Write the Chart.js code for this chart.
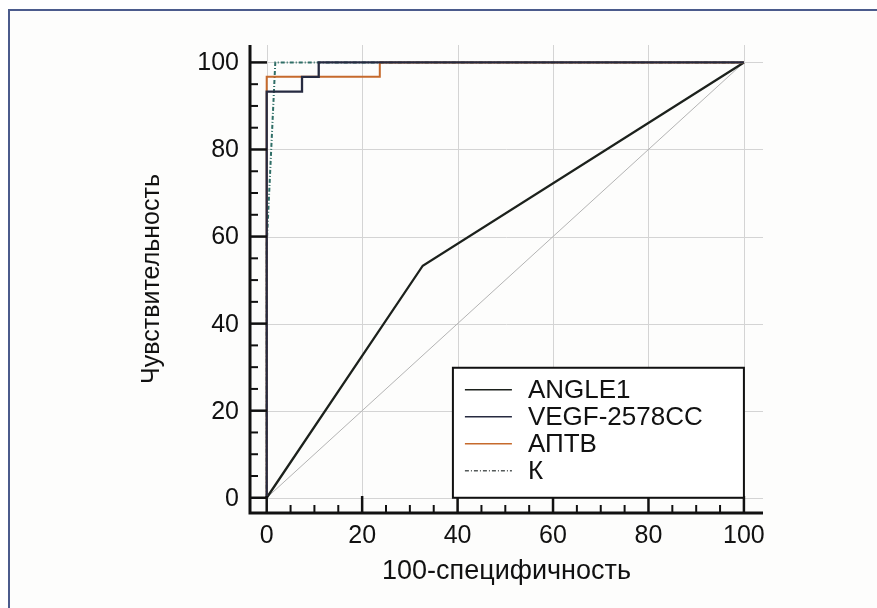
<!DOCTYPE html>
<html>
<head>
<meta charset="utf-8">
<script src="https://cdn.jsdelivr.net/npm/chart.js@4.4.1/dist/chart.umd.min.js"></script>
<style>
  html, body { margin: 0; padding: 0; background: #ffffff; }
  #wrap { width: 877px; height: 608px; }
</style>
</head>
<body>
<div id="wrap"><canvas id="roc" width="877" height="608"></canvas></div>
<script>
// ROC curves, values
const angleX = [0, 32.7, 100];
const angleY = [0, 53.3, 100];

const vegfX = [0, 0, 7.4, 7.4, 10.9, 10.9, 100];
const vegfY = [0, 93.3, 93.3, 96.7, 96.7, 100, 100];

const aptvX = [0, 0, 23.7, 23.7, 100];
const aptvY = [0, 96.7, 96.7, 100, 100];

const kX = [0, 0, 1.8, 100];
const kY = [0, 58, 100, 100];

const diagX = [0, 100];
const diagY = [0, 100];

const tickValues = [0, 20, 40, 60, 80, 100];
const xTitle = '100-специфичность';
const yTitle = 'Чувствительность';

function toPoints(xs, ys) {
    return xs.map((x, i) => ({ x: x, y: ys[i] }));
}

const FAMILY = '"Liberation Sans", Arial, sans-serif';

// frame, grid, axes with inward ticks, labels
const axesPlugin = {
    id: 'axesPlugin',
    beforeDraw(chart) {
        const ctx = chart.ctx;
        const xs = chart.scales.x;
        const ys = chart.scales.y;
        const area = chart.chartArea;
        ctx.save();
        ctx.fillStyle = '#fdfdfc';
        ctx.fillRect(9, 10, 900, 700);
        ctx.strokeStyle = '#4b5b8c';
        ctx.lineWidth = 2;
        ctx.strokeRect(9, 10, 900, 700);

        // grid
        ctx.strokeStyle = '#d4d4d4';
        ctx.lineWidth = 1;
        tickValues.forEach(v => {
            const px = Math.round(xs.getPixelForValue(v)) + 0.5;
            ctx.beginPath();
            ctx.moveTo(px, area.top);
            ctx.lineTo(px, area.bottom);
            ctx.stroke();
            const py = Math.round(ys.getPixelForValue(v)) + 0.5;
            ctx.beginPath();
            ctx.moveTo(area.left, py);
            ctx.lineTo(area.right, py);
            ctx.stroke();
        });
        ctx.restore();
    },
    afterDatasetsDraw(chart) {
        const ctx = chart.ctx;
        const xs = chart.scales.x;
        const ys = chart.scales.y;
        const area = chart.chartArea;
        ctx.save();
        ctx.strokeStyle = '#111111';
        ctx.lineCap = 'butt';

        // axis lines
        ctx.lineWidth = 3;
        ctx.beginPath();
        ctx.moveTo(area.left, area.top);
        ctx.lineTo(area.left, area.bottom);
        ctx.lineTo(area.right, area.bottom);
        ctx.stroke();

        // ticks, every 5, major every 20
        for (let v = 0; v <= 100; v += 5) {
            const major = v % 20 === 0;
            const len = major ? 17 : 8;
            ctx.lineWidth = major ? 2.5 : 2;
            const py = ys.getPixelForValue(v);
            ctx.beginPath();
            ctx.moveTo(area.left, py);
            ctx.lineTo(area.left + len, py);
            ctx.stroke();
            const px = xs.getPixelForValue(v);
            ctx.beginPath();
            ctx.moveTo(px, area.bottom);
            ctx.lineTo(px, area.bottom - len);
            ctx.stroke();
        }

        // tick labels
        ctx.fillStyle = '#111111';
        ctx.font = '25px ' + FAMILY;
        ctx.textAlign = 'right';
        ctx.textBaseline = 'middle';
        tickValues.forEach(v => {
            ctx.fillText(String(v), area.left - 11, ys.getPixelForValue(v) + 1);
        });
        ctx.textAlign = 'center';
        ctx.textBaseline = 'top';
        tickValues.forEach(v => {
            ctx.fillText(String(v), xs.getPixelForValue(v), area.bottom + 11);
        });

        // axis titles
        ctx.textBaseline = 'middle';
        ctx.font = '27px ' + FAMILY;
        ctx.fillText(xTitle, (area.left + area.right) / 2, 572);
        ctx.font = '25px ' + FAMILY;
        ctx.translate(152, (area.top + area.bottom) / 2);
        ctx.rotate(-Math.PI / 2);
        ctx.fillText(yTitle, 0, 0);
        ctx.restore();

        // legend box, anchored at (100, 0) of the data
        const right = xs.getPixelForValue(100);
        const bottom = ys.getPixelForValue(0);
        const w = 291, h = 130;
        const left = right - w, top = bottom - h;
        ctx.save();
        ctx.fillStyle = '#ffffff';
        ctx.fillRect(left, top, w, h);
        ctx.strokeStyle = '#111111';
        ctx.lineWidth = 2;
        ctx.strokeRect(left, top, w, h);
        ctx.font = '26px ' + FAMILY;
        ctx.textAlign = 'left';
        ctx.textBaseline = 'middle';
        let row = 0;
        chart.data.datasets.forEach(ds => {
            if (!ds.legend) return;
            const y = top + 22 + row * 27;
            ctx.strokeStyle = ds.legendColor || ds.borderColor;
            ctx.lineWidth = 1.5;
            ctx.setLineDash(ds.borderDash || []);
            ctx.beginPath();
            ctx.moveTo(left + 12, y);
            ctx.lineTo(left + 59, y);
            ctx.stroke();
            ctx.setLineDash([]);
            ctx.fillStyle = '#111111';
            ctx.fillText(ds.label, left + 75, y + 1);
            row++;
        });
        ctx.restore();
    }
};

const ctx = document.getElementById('roc').getContext('2d');

new Chart(ctx, {
    type: 'scatter',
    data: {
        datasets: [
            {
                label: 'ANGLE1', legend: true,
                data: toPoints(angleX, angleY),
                borderColor: '#1c211c', borderWidth: 2.3, order: 3
            },
            {
                label: 'VEGF-2578CC', legend: true,
                data: toPoints(vegfX, vegfY),
                borderColor: '#262a40', borderWidth: 2.3, order: 0
            },
            {
                label: 'АПТВ', legend: true,
                data: toPoints(aptvX, aptvY),
                borderColor: '#c66a2c', borderWidth: 2, order: 1
            },
            {
                label: 'К', legend: true,
                data: toPoints(kX, kY),
                borderColor: '#2f6e66', legendColor: '#555a5a',
                borderWidth: 2, borderDash: [4, 2, 1, 2], order: 2
            },
            {
                label: 'diag', legend: false,
                data: toPoints(diagX, diagY),
                borderColor: '#b4b4b4', borderWidth: 1, order: 5
            }
        ].map(ds => Object.assign({ showLine: true, pointRadius: 0, fill: false, tension: 0 }, ds))
    },
    options: {
        responsive: false,
        animation: false,
        layout: { padding: { left: 250, top: 45, right: 114, bottom: 95 } },
        plugins: { legend: { display: false }, tooltip: { enabled: false } },
        scales: {
            x: { type: 'linear', min: -3.5, max: 104, display: false },
            y: { type: 'linear', min: -3.5, max: 104, display: false }
        }
    },
    plugins: [axesPlugin]
});
</script>
</body>
</html>
